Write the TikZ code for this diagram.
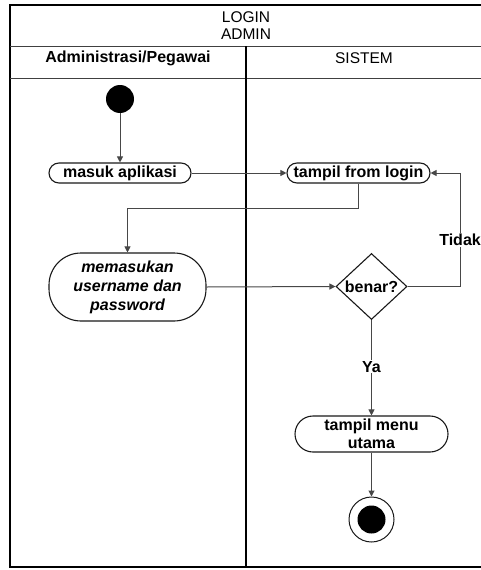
\documentclass[tikz,border=0pt]{standalone}
\usepackage{fontspec}
\setmainfont{Liberation Sans}
\usetikzlibrary{shapes.geometric,arrows.meta}
\begin{document}
\begin{tikzpicture}[x=1pt,y=-1pt,
  frameline/.style={draw=black, line width=1.3pt},
  sepline/.style={draw=black!75, line width=1pt},
  laneline/.style={draw=black, line width=1.5pt},
  action/.style={draw=black!90, line width=1.1pt, rectangle, inner sep=0pt, align=center,
     font=\fontsize{16}{18}\selectfont\bfseries},
  decision/.style={draw=black!90, line width=1.1pt, diamond, inner sep=0pt,
     minimum width=71pt, minimum height=66pt, font=\fontsize{16}{18}\selectfont\bfseries},
  flow/.style={draw=black!72, line width=1pt, -{Triangle[length=6pt,width=6pt]}},
  flowlabel/.style={fill=white, inner sep=1pt, font=\fontsize{16}{18}\selectfont\bfseries},
  hdr/.style={font=\fontsize{15.5}{17}\selectfont, align=center, inner sep=0pt}
]
\useasboundingbox (0,0) rectangle (480,570);
% frame
\draw[frameline] (482,5) -- (10,5) -- (10,567) -- (482,567);
\draw[sepline] (10,46) -- (482,46);
\draw[sepline] (10,78) -- (482,78);
\draw[laneline] (246,46) -- (246,567);
% headers
\node[hdr] (title) at (246,25.5) {LOGIN\\ADMIN};
\node[hdr, font=\fontsize{16}{18}\selectfont\bfseries] (laneA) at (128,58) {Administrasi/Pegawai};
\node[hdr] (laneB) at (364,58) {SISTEM};
% nodes
\node[circle, fill=black, minimum size=28pt, inner sep=0pt] (start) at (120,99) {};
\node[action, minimum width=142pt, minimum height=20pt, rounded corners=10pt] (masuk) at (120,173) {masuk aplikasi};
\node[action, minimum width=143pt, minimum height=20pt, rounded corners=10pt] (tampil) at (358.5,173) {tampil from login};
\node[action, minimum width=157pt, minimum height=68pt, rounded corners=32pt,
      font=\fontsize{16}{19}\selectfont\bfseries\itshape] (memasukan) at (127.5,287) {memasukan\\username dan\\password};
\node[decision] (benar) at (371.5,286.5) {\makebox[0pt]{benar?}};
\node[action, minimum width=153pt, minimum height=36pt, rounded corners=18pt] (menu) at (371.5,434) {tampil menu\\utama};
\node[circle, draw=black!90, line width=1pt, minimum size=45pt, inner sep=0pt] (end) at (371.5,519.5) {};
\node[circle, fill=black, minimum size=28pt, inner sep=0pt] (endin) at (end.center) {};
% connectors
\draw[flow] (start.south) -- (masuk.north);
\draw[flow] (masuk.east) -- (tampil.west);
\draw[flow] (tampil.south) -- ++(0,25) -| (memasukan.north);
\draw[flow] (memasukan.east) -- (benar.west);
\draw[flow] (benar.east) -- ++(52.5,0) coordinate (loop)
   -- node[flowlabel, pos=0.41] (tidak) {Tidak} (loop |- tampil.east) -- (tampil.east);
\draw[flow] (benar.south) -- node[flowlabel, pos=0.49] (ya) {Ya} (menu.north);
\draw[flow] (menu.south) -- (end.north);
\end{tikzpicture}
\end{document}
